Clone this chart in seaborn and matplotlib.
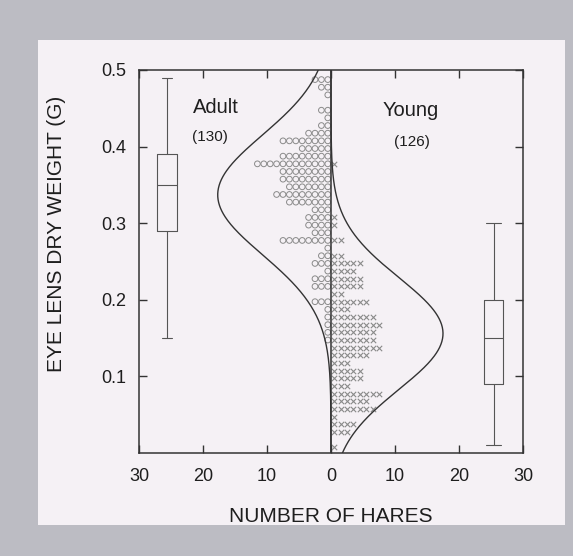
import numpy as np
import pandas as pd
import matplotlib
matplotlib.use('Agg')
import matplotlib.pyplot as plt
import seaborn as sns
from matplotlib.patches import Rectangle

# ---------------------------------------------
# DATA
# ---------------------------------------------

# dot histogram rows: lens weight (g) and number of hares in each row
ADULT_Y = [0.4875, 0.4775, 0.4675, 0.4475, 0.4375, 0.4275, 0.4175, 0.4075,
           0.3975, 0.3875, 0.3775, 0.3675, 0.3575, 0.3475, 0.3375, 0.3275,
           0.3175, 0.3075, 0.2975, 0.2875, 0.2775, 0.2675, 0.2575, 0.2475,
           0.2375, 0.2275, 0.2175, 0.1975, 0.1875, 0.1775, 0.1675, 0.1575,
           0.1475]
ADULT_N = [3, 2, 1, 2, 1, 2, 4, 8,
           5, 8, 12, 8, 8, 7, 9, 7,
           3, 4, 4, 3, 8, 1, 2, 3,
           1, 3, 3, 3, 1, 1, 1, 1,
           1]

YOUNG_Y = [0.3775, 0.3075, 0.2975, 0.2775, 0.2575, 0.2475, 0.2375, 0.2275,
           0.2175, 0.2075, 0.1975, 0.1875, 0.1775, 0.1675, 0.1575, 0.1475,
           0.1375, 0.1275, 0.1175, 0.1075, 0.0975, 0.0875, 0.0775, 0.0675,
           0.0575, 0.0475, 0.0375, 0.0275, 0.0075]
YOUNG_N = [1, 1, 1, 2, 2, 5, 4, 5,
           5, 2, 6, 3, 7, 8, 7, 7,
           8, 6, 3, 5, 5, 3, 8, 6,
           7, 1, 4, 3, 1]

# box plot summaries (g)
ADULT_BOX = dict(whislo=0.15, q1=0.29, med=0.35, q3=0.39, whishi=0.49)
YOUNG_BOX = dict(whislo=0.01, q1=0.09, med=0.15, q3=0.20, whishi=0.30)

# fitted normal curves: mean, sd, peak height (hares)
ADULT_FIT = (0.337, 0.078, 17.7)
YOUNG_FIT = (0.156, 0.073, 17.5)

X_TICKS = [-30, -20, -10, 0, 10, 20, 30]
X_LABELS = ['30', '20', '10', '0', '10', '20', '30']
Y_TICKS = [0.1, 0.2, 0.3, 0.4, 0.5]
Y_LABELS = ['0.1', '0.2', '0.3', '0.4', '0.5']

# ---------------------------------------------
# STYLE
# ---------------------------------------------

sns.set_theme(style='ticks')
plt.rcParams['font.family'] = ['Liberation Sans', 'DejaVu Sans']

INK = '#333333'
TEXT = '#1e1e1e'
DOTS = '#8a8a8a'
PAPER = '#f5f1f5'
FRAME = '#bcbcc3'


def expand_rows(ys, ns, side):
    """One marker per hare, stacked away from the zero line."""
    rows = []
    for y, n in zip(ys, ns):
        for k in range(n):
            rows.append({'x': side * (k + 0.5), 'y': y})
    return pd.DataFrame(rows)


def normal_curve(fit, side):
    mu, sd, peak = fit
    yy = np.linspace(0, 0.5, 400)
    xx = side * peak * np.exp(-0.5 * ((yy - mu) / sd) ** 2)
    return xx, yy


fig = plt.figure(figsize=(5.73, 5.56), dpi=100, facecolor=FRAME)
# pale page area of the scan
fig.add_artist(Rectangle((38 / 573, 31 / 556), 527 / 573, 485 / 556,
                         transform=fig.transFigure, facecolor=PAPER,
                         edgecolor='none', zorder=-5))

ax = fig.add_axes([139 / 573, 1 - 453 / 556, 384 / 573, 383 / 556])
ax.set_facecolor('none')

adult = expand_rows(ADULT_Y, ADULT_N, -1)
young = expand_rows(YOUNG_Y, YOUNG_N, +1)

sns.scatterplot(data=adult, x='x', y='y', ax=ax, marker='o', s=17,
                facecolor='none', edgecolor=DOTS, linewidth=0.7, legend=False)
sns.scatterplot(data=young, x='x', y='y', ax=ax, marker='x', s=15,
                color=DOTS, linewidth=0.8, legend=False)

for fit, side in [(ADULT_FIT, -1), (YOUNG_FIT, +1)]:
    xc, yc = normal_curve(fit, side)
    sns.lineplot(x=xc, y=yc, ax=ax, sort=False, estimator=None,
                 color=INK, linewidth=1.0)

ax.axvline(0, color=INK, linewidth=1.1)

box_style = dict(color='#555555', linewidth=0.8)
ax.bxp([dict(ADULT_BOX, fliers=[]), dict(YOUNG_BOX, fliers=[])],
       positions=[-25.6, 25.4], widths=[3.1, 3.0], capwidths=[1.6, 2.3],
       showfliers=False, manage_ticks=False,
       boxprops=box_style, whiskerprops=box_style, capprops=box_style,
       medianprops=box_style)

ax.text(-21.6, 0.451, 'Adult', fontsize=14.5, color=TEXT, va='center')
ax.text(-18.9, 0.412, '(130)', fontsize=11, color=TEXT,
        ha='center', va='center')
ax.text(12.5, 0.447, 'Young', fontsize=14.5, color=TEXT,
        ha='center', va='center')
ax.text(12.6, 0.406, '(126)', fontsize=11, color=TEXT,
        ha='center', va='center')

ax.set_xlim(-30, 30)
ax.set_ylim(0, 0.5)
ax.set_xticks(X_TICKS)
ax.set_xticklabels(X_LABELS)
ax.set_yticks(Y_TICKS)
ax.set_yticklabels(Y_LABELS)
ax.tick_params(direction='in', length=6, width=1, color=INK,
               top=True, right=True, labelsize=13, labelcolor=TEXT)
ax.tick_params(axis='x', pad=11)
ax.tick_params(axis='y', pad=9)
for sp in ax.spines.values():
    sp.set_color(INK)
    sp.set_linewidth(1.1)

ax.set_xlabel('NUMBER OF HARES', fontsize=15, color=TEXT, labelpad=16)
ax.set_ylabel('EYE LENS DRY WEIGHT (G)', fontsize=15, color=TEXT)
ax.yaxis.set_label_coords(-0.19, 0.573)

fig.savefig('out.png', dpi=100, facecolor=fig.get_facecolor())
